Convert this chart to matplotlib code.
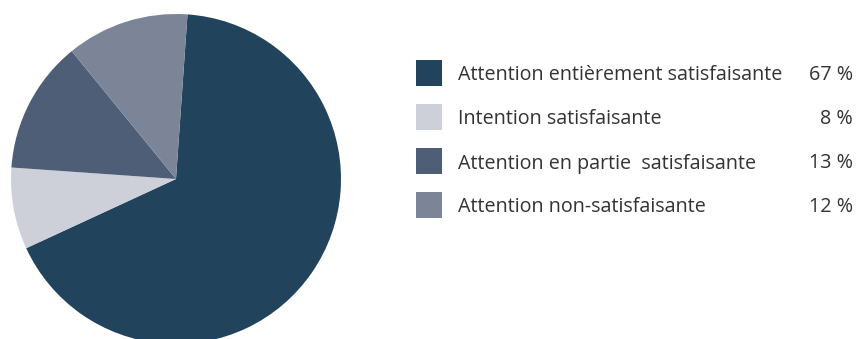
import matplotlib
matplotlib.use("Agg")
import matplotlib.pyplot as plt
from matplotlib.patches import Rectangle

plt.rcParams['font.family'] = ['Open Sans', 'DejaVu Sans']

labels = [
    "Attention entièrement satisfaisante",
    "Intention satisfaisante",
    "Attention en partie  satisfaisante",
    "Attention non-satisfaisante",
]
values = [67, 8, 13, 12]
colors = ["#22435C", "#CDD0D8", "#4E5E76", "#7C8597"]

W, H = 857, 339
fig = plt.figure(figsize=(W / 100, H / 100), dpi=100)

# Pie: centre at (176, 179) px from top-left, radius 165 px
cx, cy, r = 176, 179, 165
ax = fig.add_axes([(cx - r) / W, (H - cy - r) / H, 2 * r / W, 2 * r / H])
ax.pie(values, colors=colors, startangle=86, counterclock=False,
       radius=1, wedgeprops=dict(linewidth=0))
ax.set_xlim(-1, 1)
ax.set_ylim(-1, 1)
ax.set_aspect('equal')
ax.axis('off')

# Legend rows drawn in figure pixel coordinates
row_y = [73, 117, 161, 205]
sq = 26
for lab, val, col, y in zip(labels, values, colors, row_y):
    fig.add_artist(Rectangle((416 / W, (H - y - sq / 2) / H), sq / W, sq / H,
                             transform=fig.transFigure, facecolor=col,
                             edgecolor='none'))
    fig.text(458 / W, (H - y) / H, lab, ha='left', va='center_baseline',
             fontsize=14.2, color='#333333')
    fig.text(853 / W, (H - y) / H, f"{val} %", ha='right', va='center_baseline',
             fontsize=14.2, color='#333333')

fig.savefig("out.png", dpi=100)
